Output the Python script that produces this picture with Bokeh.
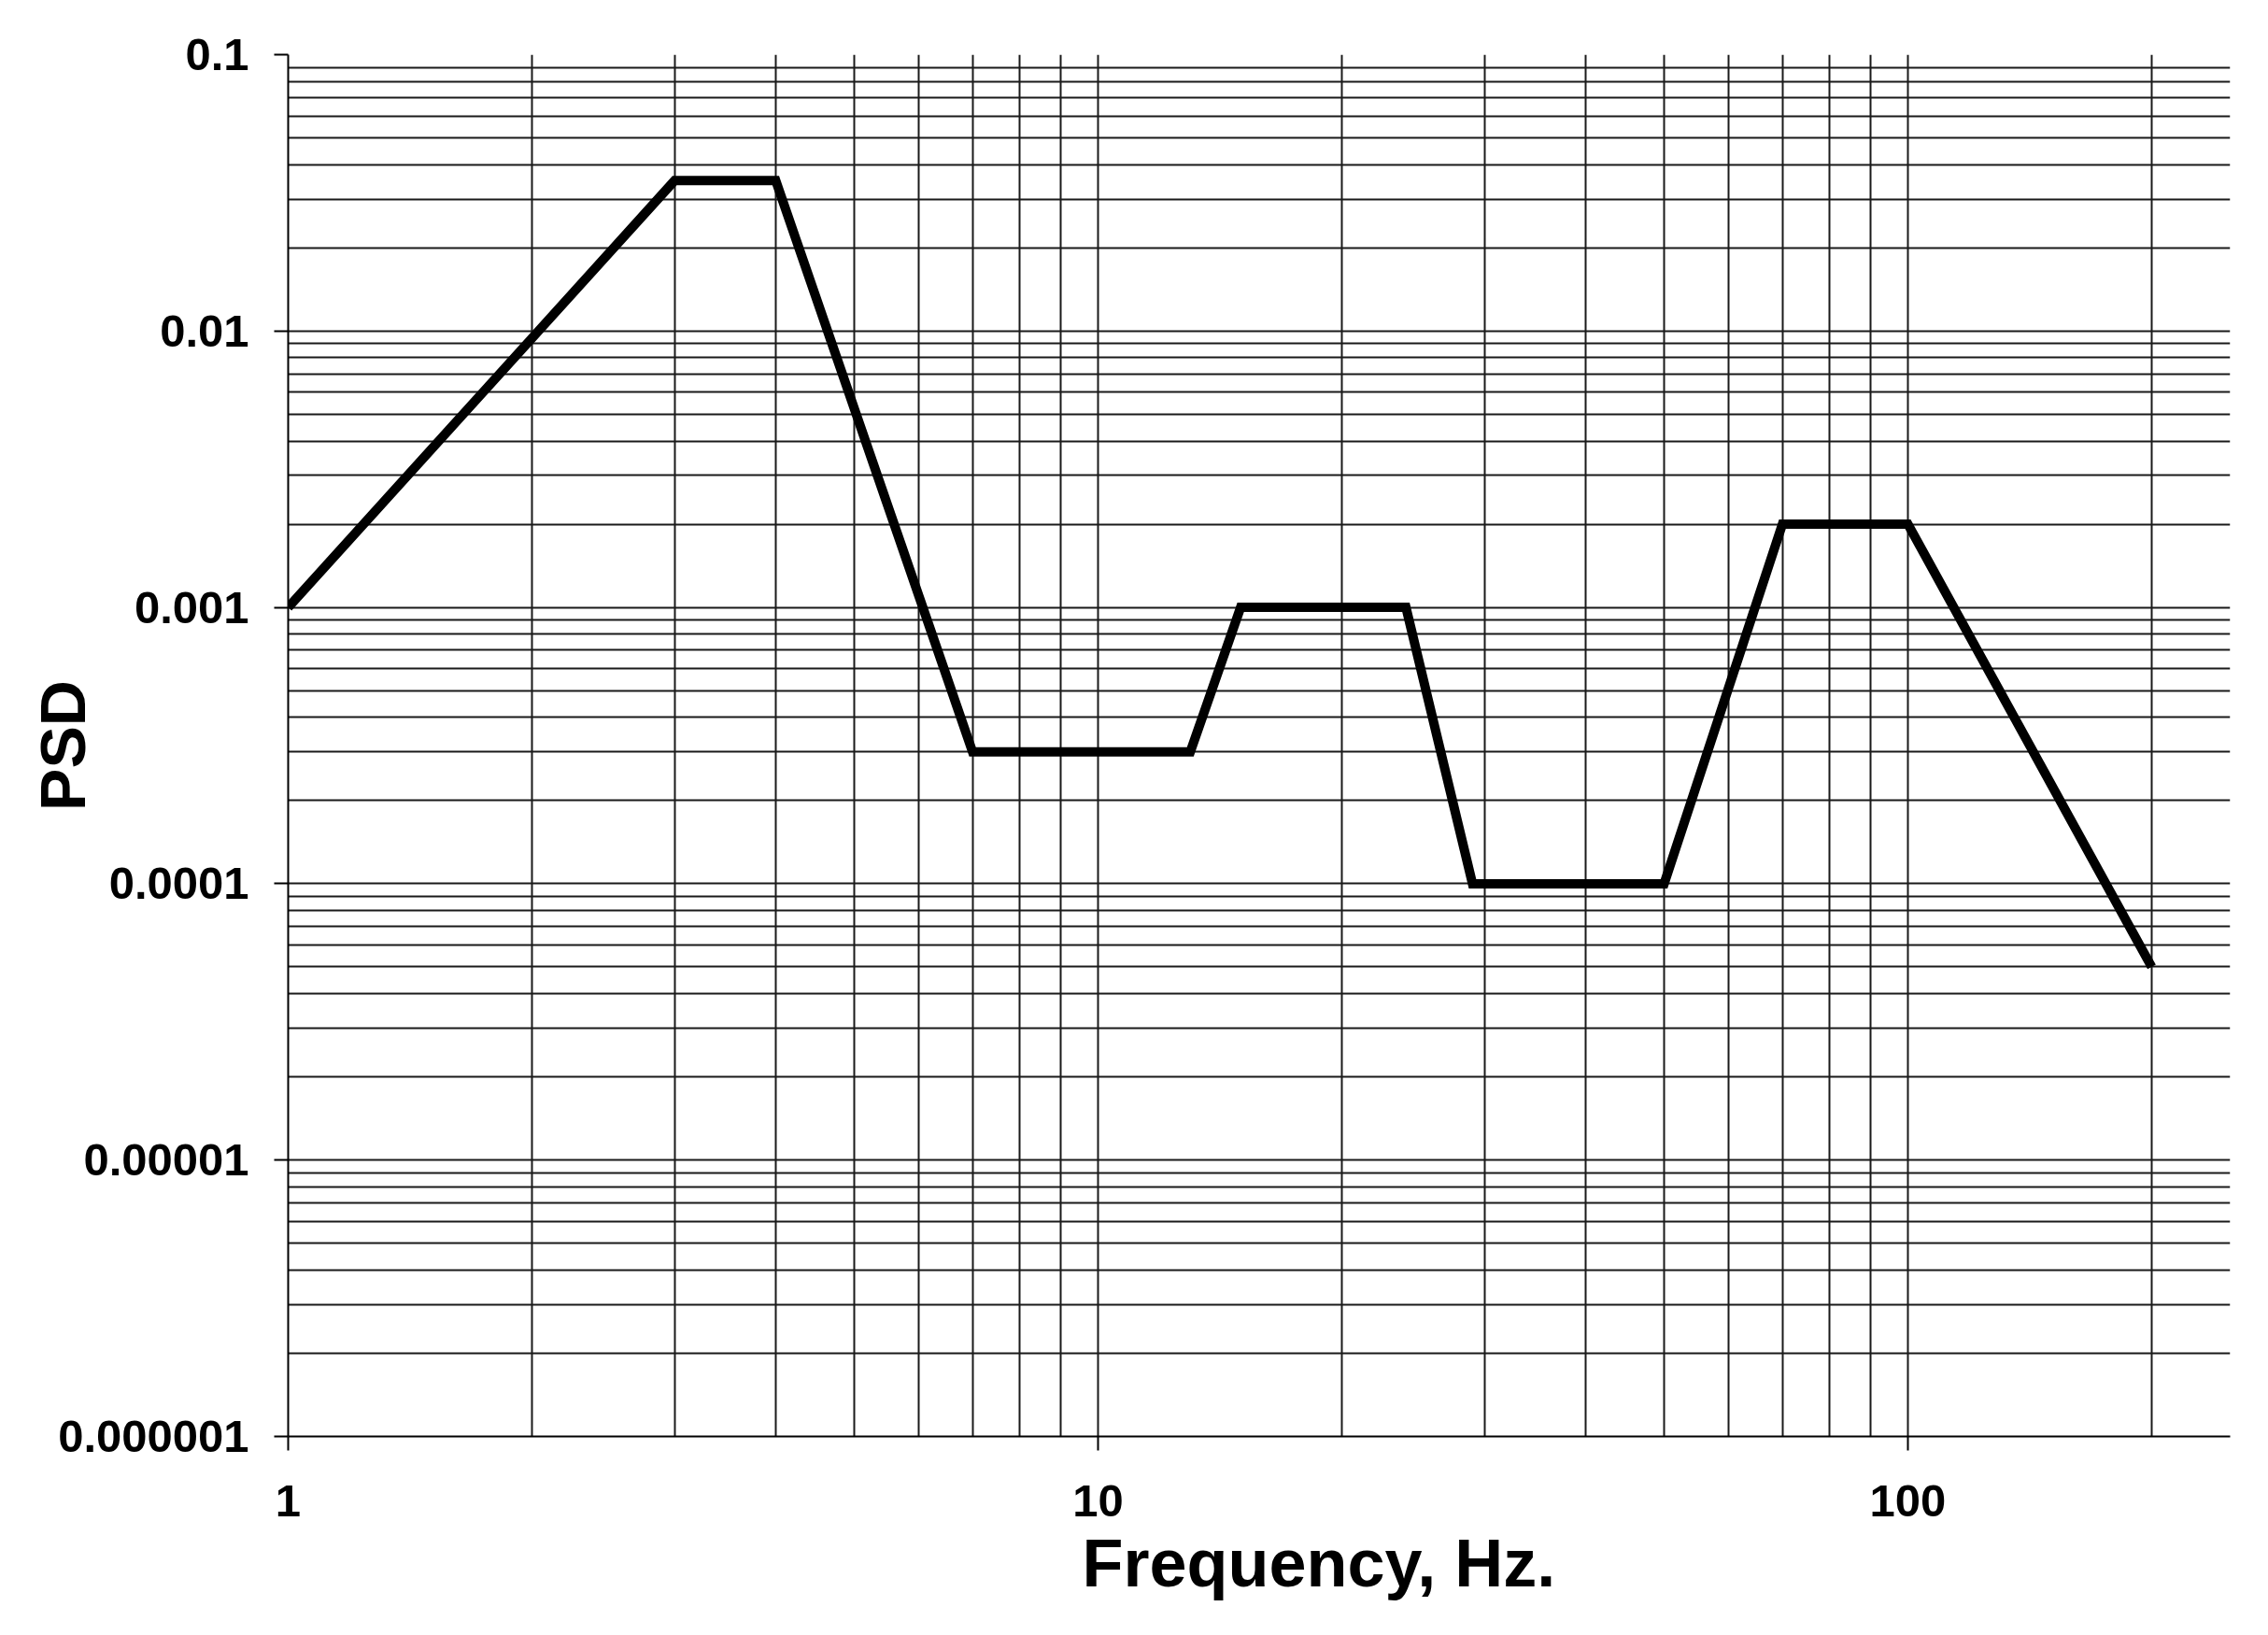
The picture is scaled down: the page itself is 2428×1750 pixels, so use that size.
from bokeh.plotting import figure
from bokeh.models import FixedTicker, CustomJSTickFormatter, Title, Range1d
from bokeh.embed import file_html
from bokeh.resources import INLINE

# Data (PSD profile)
freq_hz = [1, 3, 4, 7, 13, 15, 24, 29, 50, 70, 100, 200]
psd = [0.001, 0.035, 0.035, 0.0003, 0.0003, 0.001, 0.001, 0.0001, 0.0001, 0.002, 0.002, 0.00005]

# Tick positions
x_major_ticks = [1, 10, 100]
x_minor_ticks = [2, 3, 4, 5, 6, 7, 8, 9, 20, 30, 40, 50, 60, 70, 80, 90, 200]
y_major_ticks = [1e-6, 1e-5, 1e-4, 1e-3, 1e-2, 1e-1]
y_minor_ticks = [k * 10.0 ** e for e in range(-6, -1) for k in range(2, 10)]

FONT = "Liberation Sans"

p = figure(width=2412, height=1734, x_axis_type="log", y_axis_type="log",
           x_range=Range1d(1, 250), y_range=Range1d(1e-6, 0.1),
           output_backend="svg", toolbar_location=None,
           min_border_left=308, min_border_right=25, min_border_top=58, min_border_bottom=197)

p.outline_line_color = None
p.background_fill_color = "white"
p.border_fill_color = "white"

fmt = CustomJSTickFormatter(code="""
const d = Math.max(0, -Math.round(Math.log10(tick)));
return tick.toFixed(d);
""")

xt = FixedTicker(ticks=x_major_ticks, minor_ticks=x_minor_ticks)
yt = FixedTicker(ticks=y_major_ticks, minor_ticks=y_minor_ticks)
p.xaxis.ticker = xt
p.yaxis.ticker = yt
p.xgrid.ticker = xt
p.ygrid.ticker = yt

for g in (p.xgrid, p.ygrid):
    g.grid_line_color = "#1a1a1a"
    g.grid_line_width = 2
    g.minor_grid_line_color = "#1a1a1a"
    g.minor_grid_line_width = 2

for ax in (p.xaxis, p.yaxis):
    ax.formatter = fmt
    ax.axis_line_color = "black"
    ax.axis_line_width = 2
    ax.major_tick_line_color = "black"
    ax.major_tick_line_width = 2
    ax.major_tick_out = 15
    ax.major_tick_in = 0
    ax.minor_tick_out = 0
    ax.minor_tick_in = 0
    ax.major_label_text_font = FONT
    ax.major_label_text_font_style = "bold"
    ax.major_label_text_font_size = "49px"
    ax.major_label_text_color = "black"

p.xaxis.major_label_standoff = 37
p.yaxis.major_label_standoff = 27

p.yaxis.axis_label = "PSD"
p.yaxis.axis_label_text_font = FONT
p.yaxis.axis_label_text_font_style = "bold"
p.yaxis.axis_label_text_font_size = "68px"
p.yaxis.axis_label_text_color = "black"
p.yaxis.axis_label_standoff = -46

p.line(freq_hz, psd, line_width=10, line_color="black", line_join="miter")

xtitle = Title(text="Frequency, Hz.", align="left", offset=850, standoff=10,
               text_font=FONT, text_font_style="bold", text_font_size="72px",
               text_color="black")
p.add_layout(xtitle, "below")

open("out.html", "w").write(file_html(p, INLINE))
